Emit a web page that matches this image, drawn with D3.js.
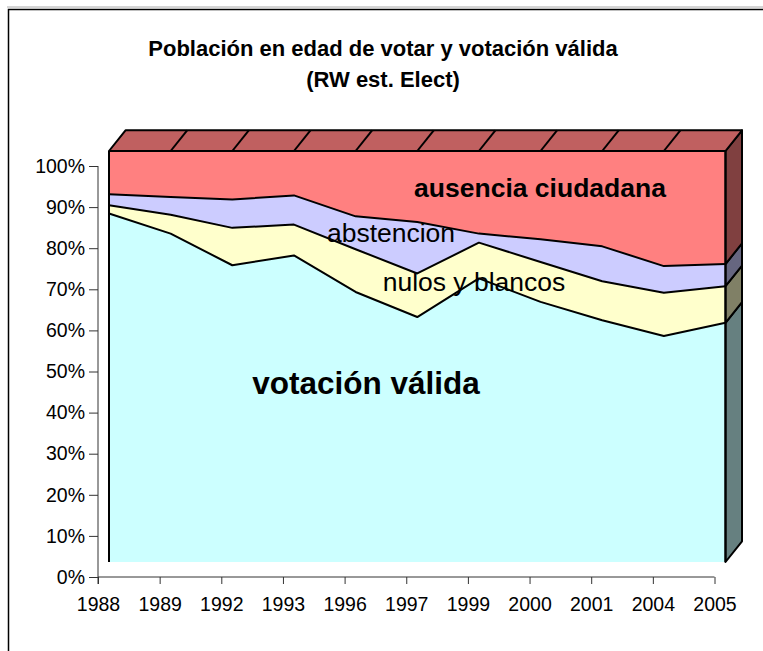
<!DOCTYPE html>
<html>
<head>
<meta charset="utf-8">
<script src="https://cdn.jsdelivr.net/npm/d3@7/dist/d3.min.js"></script>
<style>
  body { margin: 0; background: #fff; overflow: hidden; }
  svg { display: block; font-family: "Liberation Sans", Arial, sans-serif; }
</style>
</head>
<body>
<svg id="chart" width="763" height="651"></svg>
<script>
// data (percent of voting age population)
var years = ["1988", "1989", "1992", "1993", "1996", "1997", "1999", "2000", "2001", "2004", "2005"];
var validos = [84.8, 79.9, 72.2, 74.6, 65.7, 59.6, 69.0, 63.3, 58.8, 55.0, 58.2];
var nulos = [2.0, 4.6, 9.1, 7.5, 10.4, 10.6, 8.7, 9.7, 9.5, 10.5, 8.9];
var abstencion = [2.7, 4.3, 6.9, 7.1, 8.0, 12.5, 2.2, 5.5, 8.5, 6.5, 5.4];
var ausencia = [10.5, 11.2, 11.8, 10.8, 15.9, 17.3, 20.1, 21.5, 23.2, 28.0, 27.5];
var seriesKeys = ["validos", "nulos", "abstencion", "ausencia"];
var yTicks = [0, 10, 20, 30, 40, 50, 60, 70, 80, 90, 100];

var fills = { validos: "#CCFFFF", nulos: "#FFFFCC", abstencion: "#CCCCFF", ausencia: "#FF8080" };
var sides = { validos: "#668080", nulos: "#808066", abstencion: "#666680", ausencia: "#804040" };
var topColor = "#C06060";

var rows = years.map(function (y, i) {
    return { year: y, validos: validos[i], nulos: nulos[i], abstencion: abstencion[i], ausencia: ausencia[i] };
});

var svg = d3.select("#chart");

// frame (right and bottom edges lie outside the picture)
svg.append("line").attr("x1", 7).attr("x2", 763).attr("y1", 7).attr("y2", 7)
    .attr("stroke", "#aaa").attr("stroke-width", 1);
svg.append("path").attr("d", "M8.5,651V9.5H763")
    .attr("fill", "none").attr("stroke", "#000").attr("stroke-width", 1.5);

// title
svg.append("text").attr("x", 383).attr("y", 56).attr("text-anchor", "middle")
    .attr("font-weight", "bold").attr("font-size", 22)
    .text("Población en edad de votar y votación válida");
svg.append("text").attr("x", 383).attr("y", 87).attr("text-anchor", "middle")
    .attr("font-weight", "bold").attr("font-size", 22)
    .text("(RW est. Elect)");

// scales (axis plane), the series sits a bit behind it
var x = d3.scalePoint().domain(years).range([98, 714.5]);
var y = d3.scaleLinear().domain([0, 100]).range([577, 166]);
var fx = 11, fy = -15;        // axis -> front face of the series
var dx = 16.5, dy = -20.7;    // depth of the series

function px(d) { return x(d) + fx; }
function py(v) { return y(v) + fy; }

// axes
var yAxis = svg.append("g").attr("transform", "translate(98,0)")
    .call(d3.axisLeft(y).tickValues(yTicks).tickSize(9).tickPadding(4)
        .tickFormat(function (d) { return d + "%"; }));
var xAxis = svg.append("g").attr("transform", "translate(0,577)")
    .call(d3.axisBottom(x).tickSize(7).tickPadding(13));
[yAxis, xAxis].forEach(function (a) {
    a.select(".domain").remove();
    a.selectAll("line").attr("stroke", "#333");
    a.selectAll("text").attr("font-size", 19.5).attr("fill", "#000")
        .attr("font-family", "'Liberation Sans', Arial, sans-serif");
});
svg.append("line").attr("x1", 98).attr("x2", 98).attr("y1", 166).attr("y2", 584).attr("stroke", "#333");
svg.append("line").attr("x1", 98).attr("x2", 714.5).attr("y1", 577).attr("y2", 577).attr("stroke", "#333");

// stacked areas
var stack = d3.stack().keys(seriesKeys);
var layers = stack(rows);

var area = d3.area()
    .x(function (d) { return px(d.data.year); })
    .y0(function (d) { return py(d[0]); })
    .y1(function (d) { return py(d[1]); });

var plot = svg.append("g");

plot.selectAll("path.area").data(layers).enter().append("path")
    .attr("class", "area")
    .attr("d", area)
    .attr("fill", function (d) { return fills[d.key]; });

// boundary lines between series (the top one is the top face edge)
var line = d3.line()
    .x(function (d) { return px(d.data.year); })
    .y(function (d) { return py(d[1]); });

plot.selectAll("path.edge").data(layers.slice(0, 3)).enter().append("path")
    .attr("class", "edge")
    .attr("d", line)
    .attr("fill", "none").attr("stroke", "#000").attr("stroke-width", 2)
    .attr("stroke-linejoin", "round");

// right side face of each series
var last = years[years.length - 1];
var xr = px(last);
plot.selectAll("path.side").data(layers).enter().append("path")
    .attr("class", "side")
    .attr("d", function (d) {
        var p = d[d.length - 1];
        var a = py(p[0]), b = py(p[1]);
        return "M" + xr + "," + a + "L" + xr + "," + b +
            "L" + (xr + dx) + "," + (b + dy) + "L" + (xr + dx) + "," + (a + dy) + "Z";
    })
    .attr("fill", function (d) { return sides[d.key]; })
    .attr("stroke", "#000").attr("stroke-width", 2).attr("stroke-linejoin", "round");

// top face
var xl = px(years[0]);
var yt = py(100);
plot.append("path")
    .attr("d", "M" + xl + "," + yt + "L" + xr + "," + yt + "L" + (xr + dx) + "," + (yt + dy) +
        "L" + (xl + dx) + "," + (yt + dy) + "Z")
    .attr("fill", topColor).attr("stroke", "#000").attr("stroke-width", 2).attr("stroke-linejoin", "round");

plot.selectAll("line.div").data(years.slice(1, -1)).enter().append("line")
    .attr("class", "div")
    .attr("x1", function (d) { return px(d); }).attr("y1", yt)
    .attr("x2", function (d) { return px(d) + dx; }).attr("y2", yt + dy)
    .attr("stroke", "#000").attr("stroke-width", 2);

// front vertical edges
plot.append("line").attr("x1", xl).attr("x2", xl).attr("y1", yt).attr("y2", py(0))
    .attr("stroke", "#000").attr("stroke-width", 2);
plot.append("line").attr("x1", xr).attr("x2", xr).attr("y1", yt).attr("y2", py(0))
    .attr("stroke", "#000").attr("stroke-width", 2);

// series labels
var labels = [
    { text: "ausencia ciudadana", x: 540, y: 197, size: 26.5, bold: true },
    { text: "abstencion", x: 391, y: 242, size: 26.5, bold: false },
    { text: "nulos y blancos", x: 474, y: 291, size: 26.5, bold: false },
    { text: "votación válida", x: 366, y: 394, size: 31.5, bold: true }
];
svg.selectAll("text.lab").data(labels).enter().append("text")
    .attr("class", "lab")
    .attr("x", function (d) { return d.x; })
    .attr("y", function (d) { return d.y; })
    .attr("text-anchor", "middle")
    .attr("font-size", function (d) { return d.size; })
    .attr("font-weight", function (d) { return d.bold ? "bold" : "normal"; })
    .attr("fill", "#000")
    .text(function (d) { return d.text; });
</script>
</body>
</html>
